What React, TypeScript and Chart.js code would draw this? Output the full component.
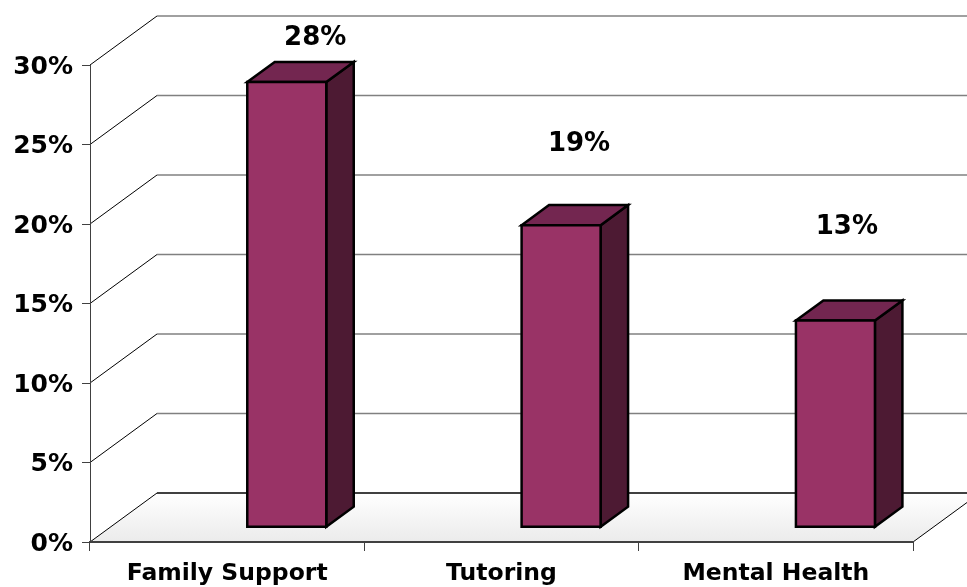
import React, { useEffect, useRef } from "react";
import { Chart, registerables } from "chart.js";

Chart.register(...registerables);

// ---- data ----
const categories = ["Family Support", "Tutoring", "Mental Health"];
const values = [0.28, 0.19, 0.13];
const valueLabels = ["28%", "19%", "13%"];
const yTickLabels = ["0%", "5%", "10%", "15%", "20%", "25%", "30%"];
const yTickValues = [0, 0.05, 0.1, 0.15, 0.2, 0.25, 0.3];

// ---- style ----
const FONT = '"DejaVu Sans", Verdana, sans-serif';
const DEPTH_X = 67;
const DEPTH_Y = -49;
const BAR_FRONT = 0.3;
const BAR_DEPTH = 0.41;
const FRONT_COLOR = "#993366";
const TOP_COLOR = "#732650";
const SIDE_COLOR = "#4d1a33";
const LABEL_OFFSETS: [number, number][] = [
  [88, -59],
  [77.5, -96],
  [71, -108],
];

function poly(ctx: CanvasRenderingContext2D, pts: number[][], fill: string) {
  ctx.beginPath();
  ctx.moveTo(pts[0][0], pts[0][1]);
  for (let i = 1; i < pts.length; i++) ctx.lineTo(pts[i][0], pts[i][1]);
  ctx.closePath();
  ctx.fillStyle = fill;
  ctx.fill();
  ctx.stroke();
}

const threeD = {
  id: "threeD",
  beforeDraw(chart: any) {
    const ctx: CanvasRenderingContext2D = chart.ctx;
    const { left, right } = chart.chartArea;
    const ys = chart.scales.y;
    const y0 = ys.getPixelForValue(0);
    ctx.save();
    // floor
    const grad = ctx.createLinearGradient(0, y0 + DEPTH_Y, 0, y0);
    grad.addColorStop(0, "#ffffff");
    grad.addColorStop(1, "#ebebeb");
    ctx.beginPath();
    ctx.moveTo(left, y0);
    ctx.lineTo(right, y0);
    ctx.lineTo(right + DEPTH_X, y0 + DEPTH_Y);
    ctx.lineTo(left + DEPTH_X, y0 + DEPTH_Y);
    ctx.closePath();
    ctx.fillStyle = grad;
    ctx.fill();
    // back gridlines and left wall diagonals
    yTickValues.forEach((v) => {
      const py = ys.getPixelForValue(v);
      ctx.strokeStyle = v === 0 ? "#000000" : "#808080";
      ctx.lineWidth = 1.5;
      ctx.beginPath();
      ctx.moveTo(left + DEPTH_X, py + DEPTH_Y);
      ctx.lineTo(right + DEPTH_X, py + DEPTH_Y);
      ctx.stroke();
      ctx.strokeStyle = "#000000";
      ctx.lineWidth = 1;
      ctx.beginPath();
      ctx.moveTo(left, py);
      ctx.lineTo(left + DEPTH_X, py + DEPTH_Y);
      ctx.stroke();
    });
    // right floor edge
    ctx.strokeStyle = "#000000";
    ctx.lineWidth = 1;
    ctx.beginPath();
    ctx.moveTo(right, y0);
    ctx.lineTo(right + DEPTH_X, y0 + DEPTH_Y);
    ctx.stroke();
    ctx.restore();
  },
  afterDatasetsDraw(chart: any) {
    const ctx: CanvasRenderingContext2D = chart.ctx;
    const meta = chart.getDatasetMeta(0);
    ctx.save();
    ctx.strokeStyle = "#000000";
    ctx.lineWidth = 2.5;
    ctx.lineJoin = "miter";
    const fx = DEPTH_X * BAR_FRONT;
    const fy = DEPTH_Y * BAR_FRONT;
    const dx = DEPTH_X * BAR_DEPTH;
    const dy = DEPTH_Y * BAR_DEPTH;
    meta.data.forEach((el: any, i: number) => {
      const p = el.getProps(["x", "y", "base", "width"], true);
      const L = p.x + fx;
      const R = L + p.width;
      const T = p.y + fy;
      const B = p.base + fy;
      poly(ctx, [[R, T], [R + dx, T + dy], [R + dx, B + dy], [R, B]], SIDE_COLOR);
      poly(ctx, [[L, T], [L + dx, T + dy], [R + dx, T + dy], [R, T]], TOP_COLOR);
      poly(ctx, [[L, T], [R, T], [R, B], [L, B]], FRONT_COLOR);
      const off = LABEL_OFFSETS[i];
      ctx.fillStyle = "#000000";
      ctx.font = `bold 26px ${FONT}`;
      ctx.textAlign = "center";
      ctx.textBaseline = "middle";
      ctx.fillText(valueLabels[i], p.x + off[0], p.y + off[1]);
    });
    ctx.restore();
  },
};

export default function App() {
  const ref = useRef<HTMLCanvasElement>(null);
  useEffect(() => {
    if (!ref.current) return;
    const chart = new Chart(ref.current, {
      type: "bar",
      data: {
        labels: categories,
        datasets: [
          {
            data: values,
            backgroundColor: "rgba(0,0,0,0)",
            borderWidth: 0,
            barPercentage: 0.288,
            categoryPercentage: 1,
          },
        ],
      },
      options: {
        responsive: false,
        animation: false,
        devicePixelRatio: 1,
        layout: { padding: { left: 8, right: 54, top: 65, bottom: 0 } },
        plugins: { legend: { display: false }, tooltip: { enabled: false } },
        scales: {
          x: {
            grid: {
              offset: true,
              drawOnChartArea: false,
              tickLength: 9,
              color: "#404040",
              lineWidth: 1,
            },
            border: { display: true, color: "#404040", width: 2 },
            ticks: {
              font: { family: FONT, size: 23.5, weight: "bold" },
              color: "#000000",
              padding: 9,
              maxRotation: 0,
              autoSkip: false,
            },
            afterFit: (s: any) => {
              s.height = 45;
            },
          },
          y: {
            min: 0,
            max: 0.3,
            ticks: {
              stepSize: 0.05,
              callback: (_v: any, i: number) => yTickLabels[i],
              font: { family: FONT, size: 25, weight: "bold" },
              color: "#000000",
              padding: 9,
              labelOffset: 2,
            },
            grid: {
              drawOnChartArea: false,
              tickLength: 8,
              color: "#404040",
              lineWidth: 1,
            },
            border: { display: true, color: "#404040", width: 1 },
            afterFit: (s: any) => {
              s.width = 82;
            },
          },
        },
      } as any,
      plugins: [threeD],
    });
    return () => chart.destroy();
  }, []);
  return (
    <div style={{ position: "absolute", left: 0, top: 0, width: 967, height: 587, background: "#ffffff" }}>
      <canvas ref={ref} width={967} height={587} />
    </div>
  );
}
